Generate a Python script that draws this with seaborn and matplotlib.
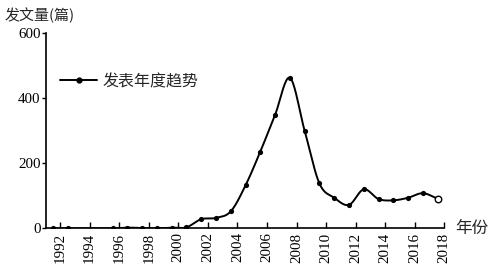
import numpy as np
import pandas as pd
import matplotlib
matplotlib.use("Agg")
import matplotlib.pyplot as plt
import seaborn as sns
from matplotlib.lines import Line2D

# data (year of publication, number of papers); 2018 is the open-circle point
years = [1992, 1993, 1996, 1997, 1998, 1999, 2000, 2001, 2002, 2003, 2004, 2005,
         2006, 2007, 2008, 2009, 2010, 2011, 2012, 2013, 2014, 2015, 2016, 2017, 2018]
counts = [0, 0, 0, 2, 1, 0, 2, 3, 28, 32, 52, 132,
          236, 349, 463, 300, 138, 94, 72, 120, 90, 86, 94, 108, 91]
xticks = list(range(1992, 2019, 2))
yticks = [0, 200, 400, 600]
series_label = "发表年度趋势"
ylabel_text = "发文量(篇)"
xlabel_text = "年份"

sns.set_theme(style="ticks")
plt.rcParams['font.family'] = ['Liberation Serif', 'Noto Sans CJK SC']

df = pd.DataFrame({"year": years, "count": counts})
df["pos"] = df["year"] - 0.45

# smooth curve (Catmull-Rom) through the data points, for the line only
px = df["pos"].to_numpy(float)
py = df["count"].to_numpy(float)
P = np.column_stack([px, py])
Pe = np.vstack([P[0] - (P[1] - P[0]), P, P[-1] + (P[-1] - P[-2])])
sx, sy = [], []
for i in range(1, len(Pe) - 2):
    p0, p1, p2, p3 = Pe[i - 1], Pe[i], Pe[i + 1], Pe[i + 2]
    t = np.linspace(0, 1, 20)[:, None]
    seg = 0.5 * ((2 * p1) + (-p0 + p2) * t + (2 * p0 - 5 * p1 + 4 * p2 - p3) * t ** 2
                 + (-p0 + 3 * p1 - 3 * p2 + p3) * t ** 3)
    sx.extend(seg[:, 0]); sy.extend(seg[:, 1])
smooth = pd.DataFrame({"x": sx, "y": np.maximum(sy, 0)})

fig = plt.figure(figsize=(4.91, 2.67), dpi=100)
ax = fig.add_axes([46 / 491, 1 - 228.3 / 267, (444.3 - 46) / 491, (228.3 - 33.3) / 267])

sns.lineplot(data=smooth, x="x", y="y", ax=ax, color="black", lw=1.4, sort=False,
             estimator=None)
solid = df.iloc[:-1]
sns.scatterplot(data=solid, x="pos", y="count", ax=ax, color="black", s=14,
                edgecolor="black", linewidth=0, zorder=3)
last = df.iloc[-1:]
ax.scatter(last["pos"], last["count"], s=22, facecolor="white", edgecolor="black",
           linewidth=1.0, zorder=4)

h = Line2D([], [], color="black", lw=1.4, marker="o", markersize=3.5)
leg = ax.legend([h], [series_label], loc="upper left", bbox_to_anchor=(0.0, 0.87),
                frameon=False, handlelength=2.3, handletextpad=0.35,
                prop={'family': ['Noto Sans CJK SC'], 'size': 11.5})

ax.set_xlim(1991.05, 2018)
ax.set_ylim(0, 600)
ax.set_xticks(xticks)
ax.set_xticklabels([str(v) for v in xticks], rotation=90)
ax.set_yticks(yticks)
ax.set_xlabel("")
ax.set_ylabel("")
ax.tick_params(axis="x", direction="in", length=4, width=1, labelsize=10.8, pad=3,
               colors="black")
ax.tick_params(axis="y", direction="out", length=3, width=1, labelsize=10.8, pad=1,
               colors="black")
for s in ["top", "right"]:
    ax.spines[s].set_visible(False)
for s in ["left", "bottom"]:
    ax.spines[s].set_color("black")
    ax.spines[s].set_linewidth(1.2)

fig.text(5 / 491, 1 - 15 / 267, ylabel_text, ha="left", va="center",
         fontsize=10.8, family=['Noto Sans CJK SC'])
fig.text(455 / 491, 1 - 228 / 267, xlabel_text, ha="left", va="center",
         fontsize=12, family=['Noto Sans CJK SC'])

fig.savefig("out.png", dpi=100, facecolor="white")
